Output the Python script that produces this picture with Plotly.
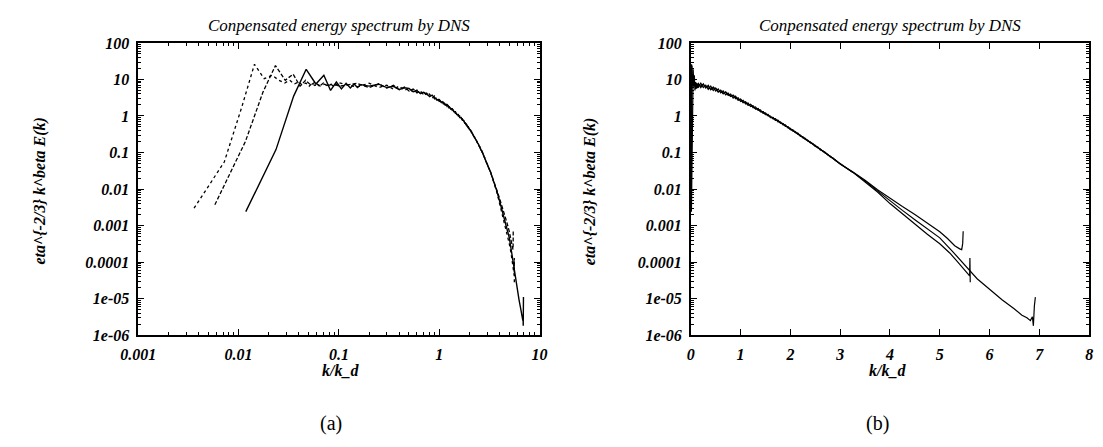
import plotly.graph_objects as go

# ---------------- data ----------------
# spectrum 1 (dotted in panel a)
k_dot = [0.0036, 0.0072, 0.0108, 0.0144, 0.018, 0.0216, 0.0252, 0.0288, 0.0324, 0.036,
         0.0396, 0.0432, 0.0468, 0.0504, 0.054, 0.0576, 0.0612, 0.0648, 0.072, 0.079,
         0.086, 0.094,
         0.10, 0.15, 0.20, 0.25, 0.30, 0.35, 0.40, 0.45, 0.50, 0.55,
         0.60, 0.65, 0.70, 0.75, 0.80, 0.85, 0.90, 0.95, 1.00, 1.05,
         1.10, 1.15, 1.20, 1.25, 1.30, 1.35, 1.40, 1.45, 1.50, 1.55,
         1.60, 1.65, 1.70, 1.75, 1.80, 1.85, 1.90, 1.95, 2.00, 2.05,
         2.10, 2.15, 2.20, 2.25, 2.30, 2.35, 2.40, 2.45, 2.50, 2.55,
         2.60, 2.65, 2.70, 2.75, 2.80, 2.85, 2.90, 2.95, 3.00,
         3.25, 3.5, 3.75, 4.0, 4.25, 4.5, 4.75, 5.0, 5.2, 5.35,
         5.48, 5.57, 5.60, 5.605, 5.612]
E_dot = [0.003, 0.055, 1.8, 26, 10.5, 13, 9.5, 8, 9.5, 7.5,
         8.5, 7, 8, 6.5, 7.8, 6.8, 7.6, 6.6, 7.4, 6.8,
         7.5, 6.9,
         8.1, 6.2, 7.9, 6.0, 7.0, 5.35, 6.6, 5.0, 5.8, 4.5,
         5.1, 4.05, 4.6, 3.65, 4.0, 3.1, 3.5, 2.7, 2.9, 2.3,
         2.46, 1.97, 2.1, 1.67, 1.77, 1.42, 1.46, 1.18, 1.22, 1.0,
         1.0, 0.83, 0.84, 0.69, 0.69, 0.57, 0.57, 0.47, 0.46, 0.385,
         0.375, 0.312, 0.302, 0.25, 0.244, 0.204, 0.196, 0.165, 0.157, 0.133,
         0.126, 0.107, 0.101, 0.085, 0.080, 0.0686, 0.0632, 0.054, 0.050,
         0.029, 0.0158, 0.0083, 0.0040, 0.0021, 0.00107, 0.000575, 0.000316, 0.000178, 0.000105,
         0.000063, 0.000044, 0.000042, 0.00013, 0.000028]

# spectrum 2 (dashed in panel a)
k_dash = [0.0058, 0.0117, 0.0175, 0.0233, 0.0292, 0.035, 0.041, 0.0466, 0.0525, 0.058,
          0.064, 0.070, 0.076, 0.082, 0.088, 0.094,
          0.10, 0.15, 0.20, 0.25, 0.30, 0.35, 0.40, 0.45, 0.50, 0.55,
          0.60, 0.65, 0.70, 0.75, 0.80, 0.85, 0.90, 0.95, 1.00, 1.05,
          1.10, 1.15, 1.20, 1.25, 1.30, 1.35, 1.40, 1.45, 1.50, 1.55,
          1.60, 1.65, 1.70, 1.75, 1.80, 1.85, 1.90, 1.95, 2.00, 2.05,
          2.10, 2.15, 2.20, 2.25, 2.30, 2.35, 2.40, 2.45, 2.50, 2.55,
          2.60, 2.65, 2.70, 2.75, 2.80, 2.85, 2.90, 2.95, 3.00,
          3.25, 3.5, 3.75, 4.0, 4.25, 4.5, 4.75, 5.0, 5.15,
          5.3, 5.4, 5.44, 5.46, 5.47]
E_dash = [0.0037, 0.2, 4.5, 24, 9.5, 14, 6.5, 9.5, 7, 8.5,
          6.5, 8, 6.8, 7.6, 6.6, 7.4,
          6.5, 7.8, 6.0, 7.6, 5.8, 6.9, 5.2, 6.2, 4.8, 5.5,
          4.3, 4.85, 3.8, 4.25, 3.4, 3.7, 2.95, 3.15, 2.5, 2.68,
          2.14, 2.27, 1.81, 1.91, 1.55, 1.6, 1.3, 1.32, 1.09, 1.1,
          0.9, 0.91, 0.76, 0.77, 0.634, 0.624, 0.518, 0.51, 0.422, 0.416,
          0.346, 0.338, 0.281, 0.268, 0.228, 0.216, 0.184, 0.175, 0.147, 0.141,
          0.118, 0.112, 0.096, 0.09, 0.0764, 0.0714, 0.0608, 0.056, 0.048,
          0.0295, 0.0174, 0.0095, 0.0055, 0.0033, 0.0020, 0.00117, 0.00068, 0.00045,
          0.00028, 0.00023, 0.00022, 0.00032, 0.0007]

# spectrum 3 (solid in panel a), extends furthest
k_sol = [0.0118, 0.0236, 0.0354, 0.0472, 0.059, 0.0708, 0.0826, 0.0944, 0.106, 0.118,
         0.130, 0.142, 0.153, 0.165,
         0.20, 0.25, 0.30, 0.35, 0.40, 0.45, 0.50, 0.55,
         0.60, 0.65, 0.70, 0.75, 0.80, 0.85, 0.90, 0.95, 1.00, 1.05,
         1.10, 1.15, 1.20, 1.25, 1.30, 1.35, 1.40, 1.45, 1.50, 1.55,
         1.60, 1.65, 1.70, 1.75, 1.80, 1.85, 1.90, 1.95, 2.00, 2.05,
         2.10, 2.15, 2.20, 2.25, 2.30, 2.35, 2.40, 2.45, 2.50, 2.55,
         2.60, 2.65, 2.70, 2.75, 2.80, 2.85, 2.90, 2.95, 3.00,
         3.25, 3.5, 3.75, 4.0, 4.25, 4.5, 4.75, 5.0, 5.25, 5.5,
         5.75, 6.0, 6.25, 6.5, 6.65, 6.75, 6.82, 6.86, 6.88, 6.9, 6.92]
E_sol = [0.0024, 0.12, 3.5, 19, 7.5, 13, 5, 8.5, 5.5, 7.8,
         5.8, 7.5, 6.0, 7.2,
         6.55, 7.4, 6.0, 6.5, 5.3, 5.9, 5.7, 4.6,
         4.9, 4.2, 4.45, 3.8, 3.45, 3.7, 3.25, 2.77, 2.83, 2.4,
         2.37, 2.0, 2.05, 1.75, 1.57, 1.58, 1.34, 1.31, 1.1, 1.08,
         0.92, 0.905, 0.77, 0.75, 0.64, 0.618, 0.53, 0.5, 0.43, 0.408,
         0.353, 0.33, 0.284, 0.265, 0.23, 0.214, 0.186, 0.173, 0.149, 0.14,
         0.12, 0.112, 0.097, 0.089, 0.077, 0.0707, 0.0614, 0.0556, 0.0485,
         0.029, 0.0166, 0.0089, 0.0047, 0.0026, 0.00145, 0.00083, 0.00046, 0.0002, 0.000083,
         0.000035, 0.000018, 0.0000093, 0.0000052, 0.0000035, 0.000003, 0.0000025, 0.0000032, 0.0000018, 0.0000063, 0.000011]

y_tickvals = [100, 10, 1, 0.1, 0.01, 0.001, 0.0001, 1e-05, 1e-06]
y_ticktext = ["100", "10", "1", "0.1", "0.01", "0.001", "0.0001", "1e-05", "1e-06"]
xa_tickvals = [0.001, 0.01, 0.1, 1, 10]
xa_ticktext = ["0.001", "0.01", "0.1", "1", "10"]
xb_tickvals = [0, 1, 2, 3, 4, 5, 6, 7, 8]

title_text = "Conpensated energy spectrum by DNS"
ylabel_text = "eta^{-2/3} k^beta E(k)"
xlabel_text = "k/k_d"

# ---------------- figure ----------------
# the page body has an 8px margin: figure is 8px smaller and pixel
# positions below are screenshot coordinates (offset removed in px_x/px_y)
OFF = 8
W, H = 1103 - OFF, 447 - OFF

fig = go.Figure()

line_a = [
    (k_dot, E_dot, dict(color="black", width=1.3, dash="dot")),
    (k_dash, E_dash, dict(color="black", width=1.3, dash="4px,2px")),
    (k_sol, E_sol, dict(color="black", width=1.4)),
]
for kk, ee, ln in line_a:
    fig.add_trace(go.Scatter(x=kk, y=ee, mode="lines", line=ln, xaxis="x", yaxis="y",
                             showlegend=False, hoverinfo="skip"))
for kk, ee in [(k_dot, E_dot), (k_dash, E_dash), (k_sol, E_sol)]:
    fig.add_trace(go.Scatter(x=kk, y=ee, mode="lines", line=dict(color="black", width=1.2),
                             xaxis="x2", yaxis="y2", showlegend=False, hoverinfo="skip"))


def px_x(p):
    return (p - OFF) / W


def px_y(p):
    return 1 - (p - OFF) / H


SERIF = "Liberation Serif"
tickfont = dict(family=SERIF, size=16, color="black", style="italic", weight="bold")

common = dict(showline=True, linecolor="black", linewidth=1.6, mirror="ticks",
              ticks="inside", ticklen=6, tickwidth=1.2, tickcolor="black",
              showgrid=False, zeroline=False, tickfont=tickfont)
minor_log = dict(ticks="inside", ticklen=3, tickwidth=1, tickcolor="black", dtick="D1", showgrid=False)

fig.update_layout(
    width=W, height=H,
    margin=dict(l=0, r=0, t=0, b=0),
    paper_bgcolor="white", plot_bgcolor="white",
    xaxis=dict(domain=[px_x(123), px_x(534)], type="log", range=[-3, 1], anchor="y",
               tickmode="array", tickvals=xa_tickvals, ticktext=xa_ticktext,
               minor=minor_log, ticklabelstandoff=4, **common),
    yaxis=dict(domain=[px_y(340), px_y(36)], type="log", range=[-6, 2], anchor="x",
               tickmode="array", tickvals=y_tickvals, ticktext=y_ticktext,
               minor=minor_log, ticklabelstandoff=4, **common),
    xaxis2=dict(domain=[px_x(689), px_x(1097)], type="linear", range=[0, 8], anchor="y2",
                tickmode="array", tickvals=xb_tickvals, ticklabelstandoff=4, **common),
    yaxis2=dict(domain=[px_y(340), px_y(36)], type="log", range=[-6, 2], anchor="x2",
                tickmode="array", tickvals=y_tickvals, ticktext=y_ticktext,
                minor=minor_log, ticklabelstandoff=4, **common),
)

title_font = dict(family=SERIF, size=17, color="black", style="italic")
lab_font = dict(family=SERIF, size=16, color="black", style="italic", weight="bold")
paren_font = dict(family=SERIF, size=20, color="black")
annots = [
    dict(x=px_x(328.5), y=px_y(18), text=title_text, font=title_font),
    dict(x=px_x(893), y=px_y(18), text=title_text, font=title_font),
    dict(x=px_x(22), y=px_y(190), text=ylabel_text, font=lab_font, textangle=-90),
    dict(x=px_x(586), y=px_y(190), text=ylabel_text, font=lab_font, textangle=-90),
    dict(x=px_x(330), y=px_y(377), text=xlabel_text, font=lab_font),
    dict(x=px_x(890), y=px_y(377), text=xlabel_text, font=lab_font),
    dict(x=px_x(320), y=px_y(432), text="(a)", font=paren_font),
    dict(x=px_x(880), y=px_y(432), text="(b)", font=paren_font),
]
for a in annots:
    fig.add_annotation(xref="paper", yref="paper", showarrow=False,
                       xanchor="center", yanchor="middle", **a)

fig.write_html("out.html")
